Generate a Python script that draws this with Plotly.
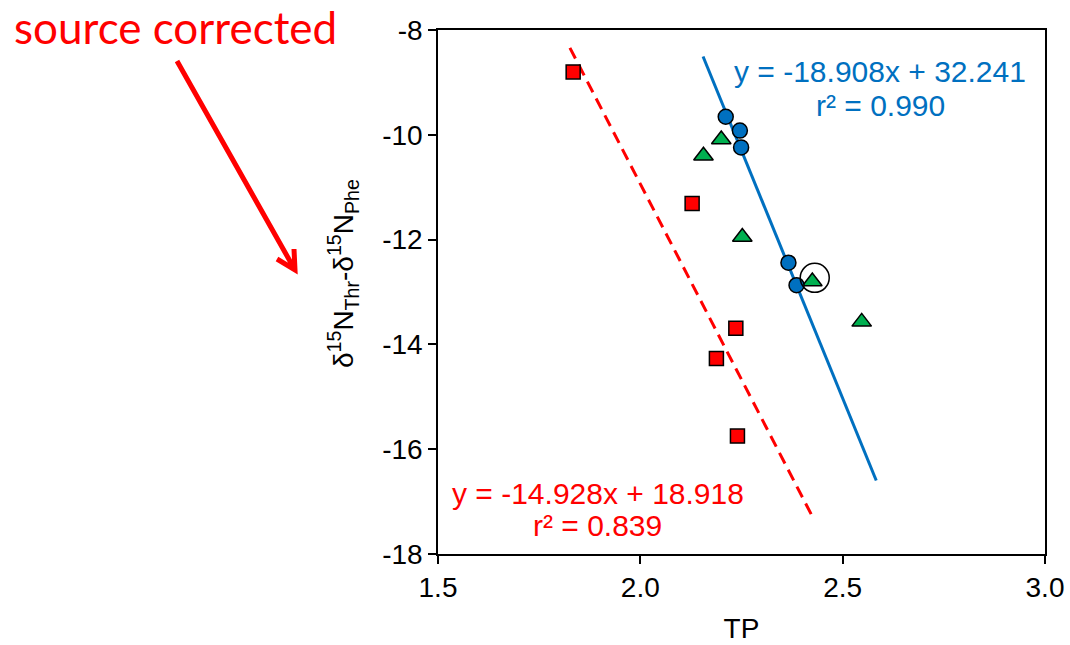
import plotly.graph_objects as go

# ---- data ----
blue_x = [2.211, 2.246, 2.249, 2.366, 2.386]
blue_y = [-9.655, -9.92, -10.24, -12.44, -12.87]

green_x = [2.200, 2.156, 2.252, 2.425, 2.547]
green_y = [-10.09, -10.40, -11.95, -12.80, -13.57]

red_x = [1.834, 2.128, 2.236, 2.188, 2.240]
red_y = [-8.80, -11.31, -13.69, -14.27, -15.75]

highlight_x = [2.431]
highlight_y = [-12.73]

blue_fit = {"slope": -18.908, "intercept": 32.241, "x": [2.155, 2.583]}
red_fit = {"slope": -14.928, "intercept": 18.918, "x": [1.826, 2.43]}

x_ticks = [1.5, 2.0, 2.5, 3.0]
x_tick_text = ["1.5", "2.0", "2.5", "3.0"]
y_ticks = [-8, -10, -12, -14, -16, -18]
y_tick_text = ["-8", "-10", "-12", "-14", "-16", "-18"]

BLUE = "#0070C0"
GREEN = "#00B050"
RED = "#FF0000"
FONT = "Liberation Sans, Arial, sans-serif"

def fit_y(fit):
    return [fit["slope"] * x + fit["intercept"] for x in fit["x"]]

fig = go.Figure()

fig.add_trace(go.Scatter(x=red_fit["x"], y=fit_y(red_fit), mode="lines",
                         line=dict(color=RED, width=3, dash="12px,7px"),
                         showlegend=False, hoverinfo="skip"))
fig.add_trace(go.Scatter(x=blue_fit["x"], y=fit_y(blue_fit), mode="lines",
                         line=dict(color=BLUE, width=3),
                         showlegend=False, hoverinfo="skip"))

fig.add_trace(go.Scatter(x=red_x, y=red_y, mode="markers",
                         marker=dict(symbol="square", size=14, color=RED,
                                     line=dict(color="black", width=1.5)),
                         showlegend=False))
fig.add_trace(go.Scatter(x=green_x, y=green_y, mode="markers",
                         marker=dict(symbol="triangle-up", size=17, color=GREEN,
                                     line=dict(color="black", width=1.5)),
                         showlegend=False))
fig.add_trace(go.Scatter(x=blue_x, y=blue_y, mode="markers",
                         marker=dict(symbol="circle", size=15, color=BLUE,
                                     line=dict(color="black", width=1.5)),
                         showlegend=False))
fig.add_trace(go.Scatter(x=highlight_x, y=highlight_y, mode="markers",
                         marker=dict(symbol="circle-open", size=29, color="black",
                                     line=dict(color="black", width=1.5)),
                         showlegend=False))

W, H = 1070, 645
L, R, T, B = 438, 25, 30, 91
PW, PH = W - L - R, H - T - B

def px(xp):
    return (xp - L) / PW

def py(yp):
    return (H - B - yp) / PH

annotations = [
    dict(text="y = -18.908x + 32.241", x=px(880), y=py(72), xref="paper", yref="paper",
         showarrow=False, font=dict(family=FONT, size=30, color=BLUE), xanchor="center", yanchor="middle"),
    dict(text="r² = 0.990", x=px(880), y=py(105), xref="paper", yref="paper",
         showarrow=False, font=dict(family=FONT, size=30, color=BLUE), xanchor="center", yanchor="middle"),
    dict(text="y = -14.928x + 18.918", x=px(598), y=py(493), xref="paper", yref="paper",
         showarrow=False, font=dict(family=FONT, size=30, color=RED), xanchor="center", yanchor="middle"),
    dict(text="r² = 0.839", x=px(597), y=py(525), xref="paper", yref="paper",
         showarrow=False, font=dict(family=FONT, size=30, color=RED), xanchor="center", yanchor="middle"),
    dict(text="source corrected", x=px(13), y=py(27), xref="paper", yref="paper",
         showarrow=False, font=dict(family="Lato, sans-serif", size=44, color=RED),
         xanchor="left", yanchor="middle", borderpad=0),
    dict(text="δ<sup>15</sup>N<sub>Thr</sub>-δ<sup>15</sup>N<sub>Phe</sub>", x=px(343), y=py(274),
         xref="paper", yref="paper", textangle=-90,
         showarrow=False, font=dict(family=FONT, size=28, color="black"),
         xanchor="center", yanchor="middle"),
]

# arrow (decoration) drawn as a path in paper coordinates
tail = (177, 61)
tip = (295, 270)
wing1 = (277, 259)
wing2 = (294, 249)
path = (f"M {px(tail[0])},{py(tail[1])} L {px(tip[0])},{py(tip[1])} "
        f"M {px(wing1[0])},{py(wing1[1])} L {px(tip[0])},{py(tip[1])} L {px(wing2[0])},{py(wing2[1])}")
shapes = [dict(type="path", path=path, xref="paper", yref="paper",
               line=dict(color=RED, width=5))]

fig.update_layout(
    width=W, height=H,
    margin=dict(l=L, r=R, t=T, b=B),
    paper_bgcolor="white", plot_bgcolor="white",
    font=dict(family=FONT, size=28, color="black"),
    annotations=annotations, shapes=shapes,
    xaxis=dict(range=[1.5, 3.0], tickvals=x_ticks, ticktext=x_tick_text, automargin=False,
               showgrid=False, zeroline=False, showline=True, linecolor="black", linewidth=1.5,
               mirror=True, ticks="outside", ticklen=8, tickcolor="black", tickwidth=1.5,
               tickfont=dict(family=FONT, size=28),
               title=dict(text="TP", font=dict(family=FONT, size=28), standoff=16)),
    yaxis=dict(range=[-18, -8], tickvals=y_ticks, ticktext=y_tick_text, automargin=False,
               showgrid=False, zeroline=False, showline=True, linecolor="black", linewidth=1.5,
               mirror=True, ticks="outside", ticklen=8, tickcolor="black", tickwidth=1.5,
               tickfont=dict(family=FONT, size=28)),
)

fig.write_html("out.html")
